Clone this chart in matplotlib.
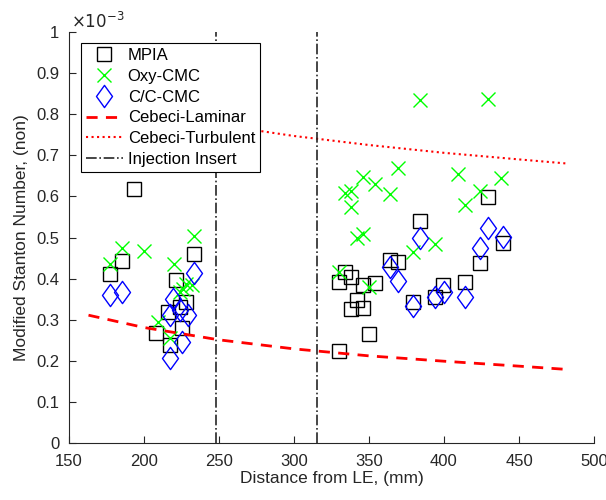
import numpy as np
import matplotlib
matplotlib.use("Agg")
import matplotlib.pyplot as plt
from matplotlib.path import Path
from matplotlib.ticker import FuncFormatter

plt.rcParams['font.family'] = ['Liberation Sans', 'DejaVu Sans']

# stanton numbers are in units of 1e-3
mpia_x = [177, 185, 193, 208, 216, 217, 221, 224, 225, 228, 233,
          330, 330, 334, 338, 338, 342, 346, 346, 350, 354, 364, 369,
          379, 384, 394, 399, 414, 424, 429, 439]
mpia_y = [0.411, 0.444, 0.617, 0.267, 0.319, 0.238, 0.397, 0.332, 0.279, 0.344, 0.459,
          0.391, 0.224, 0.417, 0.405, 0.326, 0.348, 0.384, 0.328, 0.264, 0.390, 0.445, 0.440,
          0.344, 0.541, 0.356, 0.384, 0.392, 0.439, 0.599, 0.487]

oxy_x = [177, 185, 200, 209, 217, 220, 224, 226, 228, 232, 233,
         330, 334, 338, 338, 342, 346, 346, 350, 354, 364, 369,
         379, 384, 394, 409, 414, 424, 429, 438]
oxy_y = [0.436, 0.475, 0.467, 0.295, 0.255, 0.435, 0.368, 0.374, 0.386, 0.384, 0.504,
         0.417, 0.608, 0.612, 0.575, 0.498, 0.646, 0.508, 0.379, 0.630, 0.606, 0.670,
         0.464, 0.835, 0.484, 0.655, 0.578, 0.612, 0.837, 0.644]

cc_x = [177, 185, 217, 217, 219, 224, 225, 229, 233,
        364, 369, 379, 384, 394, 400, 414, 424, 429, 439]
cc_y = [0.360, 0.368, 0.311, 0.206, 0.350, 0.324, 0.246, 0.311, 0.414,
        0.429, 0.395, 0.333, 0.500, 0.356, 0.368, 0.356, 0.475, 0.524, 0.502]

cebeci_x = [163, 200, 250, 300, 350, 400, 450, 482]
laminar_y = [0.311, 0.281, 0.251, 0.229, 0.212, 0.199, 0.187, 0.179]
turbulent_y = [0.845, 0.808, 0.774, 0.747, 0.725, 0.706, 0.690, 0.680]

insert_x = [248, 315]

axc = (0.15, 0.15, 0.15)
diamond = Path([(0, 1), (0.72, 0), (0, -1), (-0.72, 0), (0, 1)],
               [Path.MOVETO, Path.LINETO, Path.LINETO, Path.LINETO, Path.CLOSEPOLY])

fig = plt.figure(figsize=(6.06, 5.0), dpi=100)
ax = fig.add_axes([69/606, 57/500, 525/606, 411/500])

ax.plot(mpia_x, mpia_y, 's', ms=9.5, mfc='none', mec='black', mew=1.0, label='MPIA')
ax.plot(oxy_x, oxy_y, 'x', ms=10, color=(0, 1, 0), mew=1.0, label='Oxy-CMC')
ax.plot(cc_x, cc_y, marker=diamond, ls='none', ms=16, mfc='none', mec='blue', mew=1.0,
        label='C/C-CMC')
ax.plot(cebeci_x, laminar_y, '--', color='red', lw=2, dashes=(4, 3), label='Cebeci-Laminar')
ax.plot(cebeci_x, turbulent_y, ':', color='red', lw=1.5, label='Cebeci-Turbulent')
for i, xv in enumerate(insert_x):
    ax.axvline(xv, color=axc, ls='-.', lw=1.2, label='Injection Insert' if i == 0 else None)

ax.set_xlim(150, 500)
ax.set_ylim(0, 1)
ax.set_xticks(np.arange(150, 501, 50))
ax.set_yticks(np.arange(0, 1.01, 0.1))
ax.yaxis.set_major_formatter(FuncFormatter(lambda v, p: '%g' % round(v, 1)))

for s in ['top', 'right']:
    ax.spines[s].set_visible(False)
for s in ['left', 'bottom']:
    ax.spines[s].set_color(axc)
    ax.spines[s].set_linewidth(0.8)
ax.tick_params(direction='in', length=5, width=0.8, color=axc, labelsize=12,
               labelcolor=axc)
ax.tick_params(axis='x', pad=8)
ax.tick_params(axis='y', pad=7)

ax.set_xlabel('Distance from LE, (mm)', fontsize=12.5, color=axc, labelpad=1)
ax.set_ylabel('Modified Stanton Number, (non)', fontsize=12.5, color=axc, labelpad=5)
fig.text(71/606, 1 - 28/500, r'$\times10^{-3}$', fontsize=12, color=axc)

leg = ax.legend(loc='upper left', bbox_to_anchor=(12/525, 400/411), borderaxespad=0,
                fontsize=12, fancybox=False, edgecolor='black', framealpha=1,
                handlelength=2.2, handletextpad=0.3, labelspacing=0.35, borderpad=0.3)
leg.get_frame().set_linewidth(0.8)

fig.savefig('out.png', dpi=100)
